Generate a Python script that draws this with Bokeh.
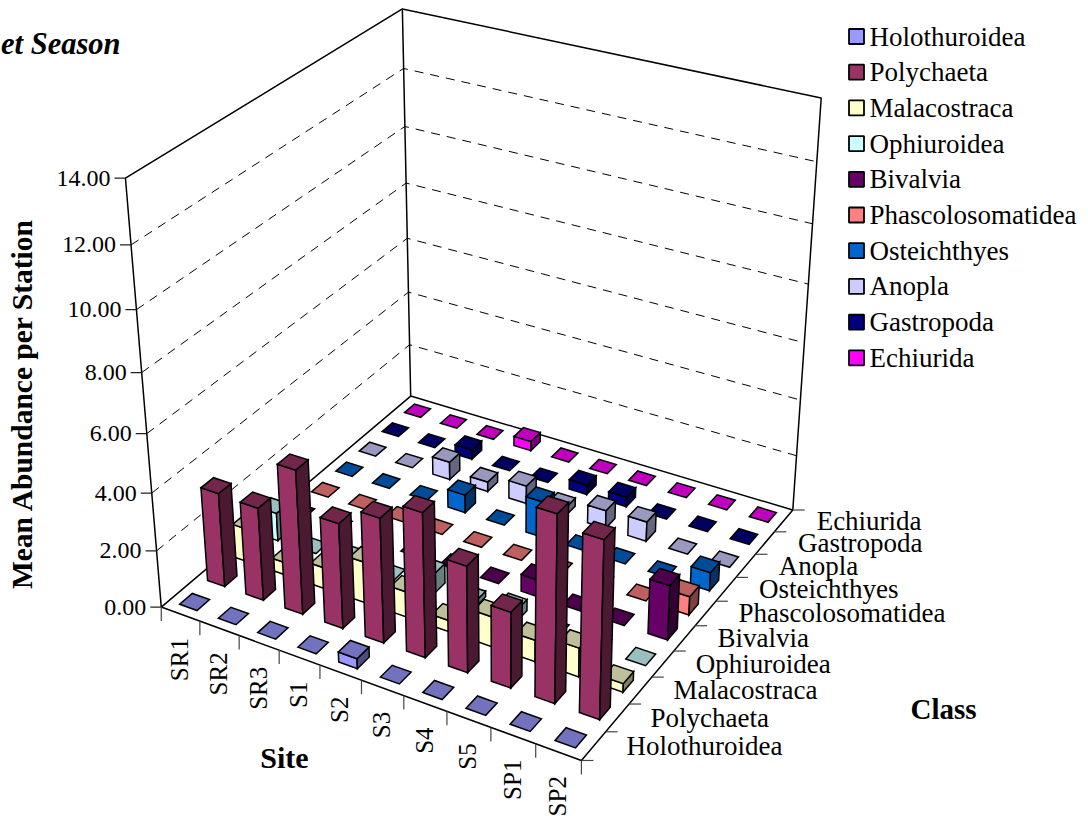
import numpy as np
from bokeh.plotting import figure
from bokeh.models import Range1d, ColumnDataSource
from bokeh.core.properties import value
from bokeh.embed import file_html
from bokeh.resources import INLINE

sites = ["SR1", "SR2", "SR3", "S1", "S2", "S3", "S4", "S5", "SP1", "SP2"]
classes = ["Holothuroidea", "Polychaeta", "Malacostraca", "Ophiuroidea", "Bivalvia",
           "Phascolosomatidea", "Osteichthyes", "Anopla", "Gastropoda", "Echiurida"]
colors = ["#9999FF", "#993366", "#FFFFCC", "#CCFFFF", "#660066",
          "#FF8080", "#0066CC", "#CCCCFF", "#000080", "#FF00FF"]

holothuroidea = [0, 0, 0, 0, 0.35, 0, 0, 0, 0, 0]
polychaeta = [3.3, 3.25, 5.0, 3.65, 4.3, 4.95, 3.65, 2.6, 6.3, 5.95]
malacostraca = [1.2, 0.45, 0.75, 1.45, 0.9, 0.4, 1.05, 0.75, 1.0, 0.3]
ophiuroidea = [1.0, 0, 0.2, 0, 0.7, 0.2, 0.4, 0, 0, 0]
bivalvia = [0, 0, 0, 0, 0, 0, 0.6, 0, 0, 1.9]
phascolosomatidea = [0, 0, 0, 0, 0, 0, 0, 0, 0, 0.65]
osteichthyes = [0, 0, 0, 0.65, 0, 1.3, 0, 0, 0, 0.65]
anopla = [0, 0, 0.65, 0.35, 0.65, 0.3, 0.65, 0.7, 0, 0]
gastropoda = [0, 0, 0.35, 0, 0, 0.35, 0.35, 0, 0, 0]
echiurida = [0, 0, 0, 0.35, 0, 0, 0, 0, 0, 0]
table = [holothuroidea, polychaeta, malacostraca, ophiuroidea, bivalvia,
         phascolosomatidea, osteichthyes, anopla, gastropoda, echiurida]

z_ticks = [0, 2, 4, 6, 8, 10, 12, 14]
FONT = "Liberation Serif"

# camera calibration of the 3D box: (site units, class units, z) -> page pixels
cal = [((0, 0, 0), (161, 606)), ((10, 0, 0), (582, 760)), ((0, 10, 0), (410, 396)),
       ((10, 10, 0), (792, 510)), ((0, 0, 14), (125, 178)), ((0, 10, 14), (403, 8)),
       ((10, 10, 14), (820, 97)), ((0, 0, 2), (156, 550)), ((0, 0, 4), (151, 492)),
       ((0, 0, 6), (146, 433)), ((0, 0, 8), (141, 372)), ((0, 0, 10), (135, 310)),
       ((0, 0, 12), (131, 245))]
A = []
for (w, (u, v)) in cal:
    X = [w[0] / 10, w[1] / 10, w[2] / 14, 1]
    A.append(X + [0, 0, 0, 0] + [-u * c for c in X])
    A.append([0, 0, 0, 0] + X + [-v * c for c in X])
P = np.linalg.svd(np.array(A, float))[2][-1].reshape(3, 4)


def proj(i, j, z):
    h = P @ np.array([i / 10, j / 10, z / 14, 1.0])
    return h[0] / h[2], h[1] / h[2]


def shade(col, f):
    r, g, b = (int(col[k:k + 2], 16) for k in (1, 3, 5))
    return "#%02X%02X%02X" % (int(r * f), int(g * f), int(b * f))


p = figure(width=1088, height=816, x_range=Range1d(0, 1088), y_range=Range1d(816, 0),
           output_backend="svg", toolbar_location=None, min_border=0,
           outline_line_color=None, background_fill_color="white")
p.axis.visible = False
p.grid.visible = False


def seg(pts, **kw):
    p.line([a[0] for a in pts], [a[1] for a in pts], **kw)


# dashed gridlines on walls
for z in z_ticks[1:-1]:
    seg([proj(0, 0, z), proj(0, 10, z), proj(10, 10, z)], line_color="black",
        line_width=1, line_dash="9 7")
for poly in ([(0, 0, 0), (10, 0, 0), (10, 10, 0), (0, 10, 0), (0, 0, 0)],
             [(0, 0, 0), (0, 0, 14), (0, 10, 14), (10, 10, 14), (10, 10, 0)],
             [(0, 10, 0), (0, 10, 14)]):
    seg([proj(*q) for q in poly], line_color="black", line_width=1.5)

# ticks
for z in z_ticks:
    x, y = proj(0, 0, z)
    seg([(x - 11, y), (x, y)], line_color="#222222", line_width=1.2)
for i in range(11):
    x, y = proj(i, 0, 0)
    seg([(x, y), (x, y + 14)], line_color="#444444", line_width=1.2)
for j in range(11):
    x, y = proj(10, j, 0)
    seg([(x, y), (x + 12, y)], line_color="#444444", line_width=1.2)

# bars, back to front
BAR = 0.45
xs, ys, fills = [], [], []
for j in range(9, -1, -1):
    for i in range(10):
        h = table[j][i]
        c = colors[j]
        i0, i1 = i + 0.5 - BAR / 2, i + 0.5 + BAR / 2
        j0, j1 = j + 0.5 - BAR / 2, j + 0.5 + BAR / 2
        faces = []
        if h > 0:
            faces.append(([(i0, j0, 0), (i1, j0, 0), (i1, j0, h), (i0, j0, h)], c))
            faces.append(([(i1, j0, 0), (i1, j1, 0), (i1, j1, h), (i1, j0, h)], shade(c, 0.5)))
        faces.append(([(i0, j0, h), (i1, j0, h), (i1, j1, h), (i0, j1, h)], shade(c, 0.75)))
        for quad, col in faces:
            pts = [proj(*q) for q in quad]
            xs.append([a[0] for a in pts])
            ys.append([a[1] for a in pts])
            fills.append(col)
p.patches("xs", "ys", fill_color="fills", line_color="black", line_width=1.5, line_join="miter",
          source=ColumnDataSource(dict(xs=xs, ys=ys, fills=fills)))

# tick labels
zx, zy, zt = [], [], []
for z in z_ticks:
    x, y = proj(0, 0, z)
    zx.append(x - 15)
    zy.append(y)
    zt.append("%.2f" % z)
p.text(zx, zy, text=zt, text_font=value(FONT), text_font_size="24px",
       text_align="right", text_baseline="middle", text_color="black")

sx, sy = [], []
for i in range(10):
    x, y = proj(i + 0.5, 0, 0)
    sx.append(x - 1)
    sy.append(y + 24)
p.text(sx, sy, text=sites, angle=np.pi / 2, text_font=value(FONT), text_font_size="25px",
       text_align="right", text_baseline="middle", text_color="black")

cx, cy = [], []
for j in range(10):
    x, y = proj(10, j + 0.5, 0)
    cx.append(x + 33)
    cy.append(y)
p.text(cx, cy, text=classes, text_font=value(FONT), text_font_size="27px",
       text_align="left", text_baseline="middle", text_color="black")

# axis titles
p.text([21], [403], text=["Mean Abundance per Station"], angle=np.pi / 2, text_font=value(FONT),
       text_font_size="29.5px", text_font_style="bold", text_align="center", text_baseline="middle")
p.text([284], [757], text=["Site"], text_font=value(FONT), text_font_size="30px",
       text_font_style="bold", text_align="center", text_baseline="middle")
p.text([943], [708], text=["Class"], text_font=value(FONT), text_font_size="29px",
       text_font_style="bold", text_align="center", text_baseline="middle")
p.text([120], [43], text=["et Season"], text_font=value(FONT), text_font_size="30.5px",
       text_font_style="bold italic", text_align="right", text_baseline="middle")

# legend
ly = [36 + 35.7 * k for k in range(10)]
p.rect([856] * 10, ly, width=15, height=15, fill_color=colors, line_color="black", line_width=1.8)
p.text([869] * 10, ly, text=classes, text_font=value(FONT), text_font_size="27px",
       text_align="left", text_baseline="middle", text_color="black")

open("out.html", "w").write(file_html(p, INLINE))
